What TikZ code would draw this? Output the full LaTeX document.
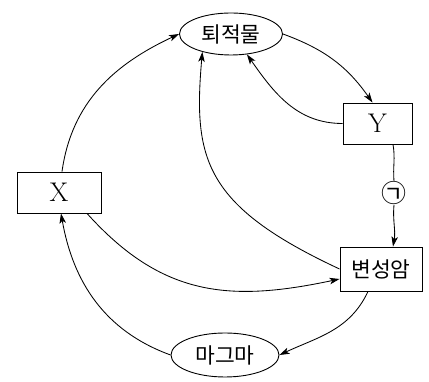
\documentclass[tikz,border=0pt]{standalone}
\usepackage{fontspec}
\newfontfamily\cjk{Noto Sans CJK KR}
\usetikzlibrary{shapes.geometric,arrows.meta}
\begin{document}
\begin{tikzpicture}[x=1pt,y=1pt,
  box/.style={draw, line width=0.9pt, inner sep=0},
  oval/.style={draw, ellipse, line width=0.9pt, inner sep=0},
  kor/.style={font=\cjk\fontsize{21.5}{21.5}\selectfont},
  lat/.style={font=\fontsize{27}{27}\selectfont},
  flow/.style={line width=0.85pt, -{Stealth[length=10pt,width=6.5pt,inset=2.5pt]}},
  plain/.style={line width=0.85pt}]
\useasboundingbox (0,0) rectangle (429,382);
% nodes
\node[oval,kor,minimum width=103pt,minimum height=42pt] (sed) at (231,348) {퇴적물};
\node[box,lat,minimum width=69pt,minimum height=41pt] (Y) at (377.5,258.5) {Y};
\node[box,lat,minimum width=84pt,minimum height=41pt] (X) at (59,189.5) {X};
\node[box,kor,minimum width=82pt,minimum height=44pt] (meta) at (381,113) {변성암};
\node[oval,kor,minimum width=108pt,minimum height=44pt] (mag) at (225,27) {마그마};
\node[font=\cjk\fontsize{25}{25}\selectfont, inner sep=0] (g) at (394,189) {㉠};
% connectors
\draw[flow] ([xshift=3pt]X.north) to[out=82,in=205] (sed.west);
\draw[flow] (sed.east) to[out=-20,in=125] ([xshift=-5pt]Y.north);
\draw[flow] (Y.west) to[out=180,in=-55] (sed.-52);
\draw[flow] (meta.west) .. controls +(155:150) and +(-95:107) .. (sed.-148);
\draw[plain] ([xshift=15.5pt]Y.south) to[out=-80,in=95] (g.north);
\draw[flow] (g.south) to[out=-95,in=80] ([xshift=12pt]meta.north);
\draw[flow] ([xshift=28pt]X.south) to[out=-48,in=192,looseness=1.1] ([yshift=-10pt]meta.west);
\draw[flow] ([xshift=-13pt]meta.south) to[out=-115,in=25] (mag.east);
\draw[flow] (mag.west) to[out=160,in=-80] ([xshift=2pt]X.south);
\end{tikzpicture}
\end{document}
